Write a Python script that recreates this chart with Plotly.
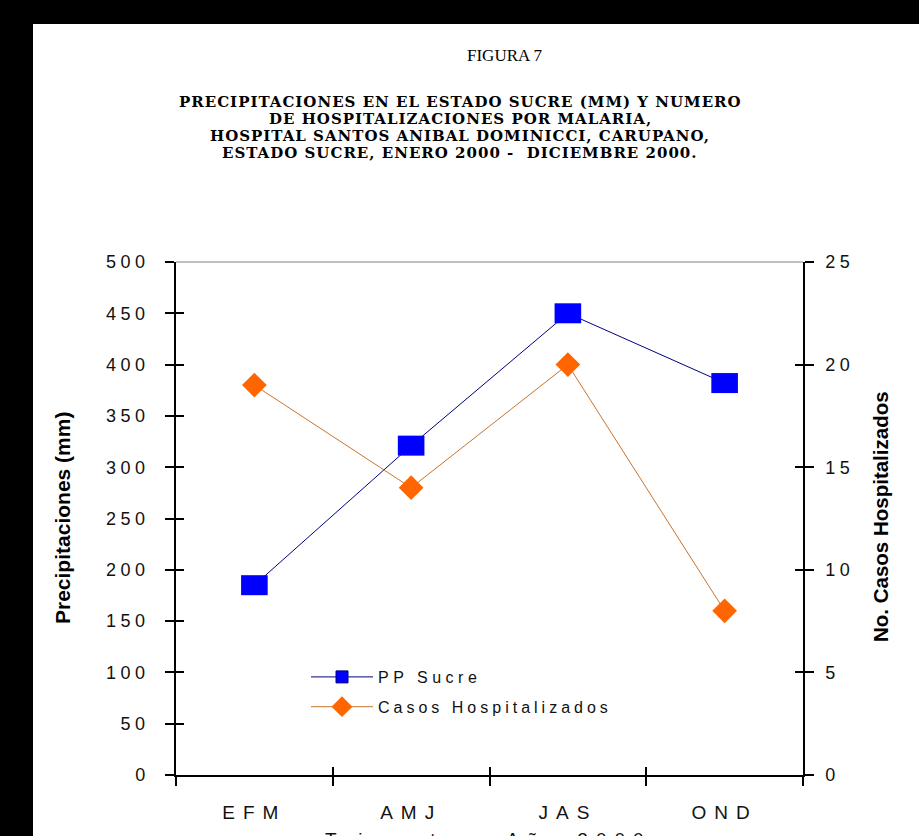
import plotly.graph_objects as go

# Quarterly rainfall (mm) and malaria hospitalisations, Sucre state, 2000
quarters = ["EFM", "AMJ", "JAS", "OND"]
precip_mm = [185, 321, 450, 382]
hosp_cases = [19, 14, 20, 8]
precip_ticks = [0, 50, 100, 150, 200, 250, 300, 350, 400, 450, 500]
cases_ticks = [0, 5, 10, 15, 20, 25]

W, H = 919, 836
# plot area box in page pixels
L, R, T, B = 176, 803, 262, 775


def px(xp):
    return (xp - L) / (R - L)


def py(yp):
    return (B - yp) / (B - T)


SANS = "Liberation Sans, Arial, sans-serif"
SERIF = "Liberation Serif, Times New Roman, serif"
HEAVY_SERIF = "DejaVu Serif, Liberation Serif, serif"


def spaced(s, ls):
    return f'<span style="letter-spacing:{ls}px">{s}</span>'


NAVY = "#000080"
BLUE = "#0000FF"
ORANGE = "#FF6600"
TAN = "#C8742C"

fig = go.Figure()

# rainfall series: wide rectangular markers
fig.add_trace(go.Scatter(
    x=quarters, y=precip_mm, name="PP Sucre", mode="lines+markers",
    line=dict(color=NAVY, width=1),
    marker=dict(symbol="line-ew", size=19, color=BLUE,
                line=dict(color=BLUE, width=20)),
    showlegend=False, xaxis="x", yaxis="y", cliponaxis=False,
))
# legend entry for the rainfall series
fig.add_trace(go.Scatter(
    x=[None], y=[None], name=spaced("PP Sucre", 4.5), mode="lines+markers",
    line=dict(color=NAVY, width=1),
    marker=dict(symbol="square", size=12, color=BLUE,
                line=dict(color=NAVY, width=1)),
    legendrank=1, legendgroup="pp", xaxis="x", yaxis="y",
))
# hospitalisations on the secondary axis
fig.add_trace(go.Scatter(
    x=quarters, y=hosp_cases, name=spaced("Casos Hospitalizados", 4),
    mode="lines+markers",
    line=dict(color=TAN, width=1),
    marker=dict(symbol="diamond", size=19, color=ORANGE,
                line=dict(color=ORANGE, width=0)),
    legendrank=2, legendgroup="casos", xaxis="x", yaxis="y2",
    cliponaxis=False,
))

boundaries = [i - 0.5 for i in range(len(quarters) + 1)]

# empty traces so the inner tick axes (x2, y3, y4) get drawn
for xa, ya in (("x2", "y3"), ("x2", "y4")):
    fig.add_trace(go.Scatter(x=[None], y=[None], xaxis=xa, yaxis=ya,
                             showlegend=False, hoverinfo="skip"))

tick_font = dict(family=SANS, size=18, color="#111111")

fig.update_layout(
    width=W, height=H,
    margin=dict(l=L, r=W - R, t=T, b=H - B, pad=0),
    paper_bgcolor="white", plot_bgcolor="white",
    showlegend=True,
    legend=dict(
        x=px(306), y=py(660), xanchor="left", yanchor="top",
        bgcolor="rgba(0,0,0,0)", borderwidth=0,
        font=dict(family=SANS, size=16, color="#111111"),
        itemwidth=62, traceorder="grouped", tracegroupgap=6,
    ),
    xaxis=dict(
        type="category", categoryorder="array", categoryarray=quarters,
        range=[-0.5, len(quarters) - 0.5],
        tickmode="array", tickvals=quarters,
        ticktext=[spaced(q, 8) for q in quarters],
        tickson="boundaries", ticks="outside", ticklen=9, tickwidth=1.5,
        tickcolor="black", showline=True, linecolor="black", linewidth=1.5,
        showgrid=False, zeroline=False,
        tickfont=dict(family=SANS, size=19, color="#111111"),
        ticklabelstandoff=19,
    ),
    xaxis2=dict(
        overlaying="x", anchor="y", side="bottom",
        range=[-0.5, len(quarters) - 0.5],
        tickmode="array", tickvals=boundaries,
        ticks="inside", ticklen=8, tickwidth=1.5, tickcolor="black",
        showticklabels=False, showline=False, showgrid=False, zeroline=False,
    ),
    yaxis=dict(
        range=[0, 500], tickmode="array", tickvals=precip_ticks,
        ticktext=[spaced(str(v), 4.5) for v in precip_ticks],
        ticks="outside", ticklen=9, tickwidth=1.5, tickcolor="black",
        showline=True, linecolor="black", linewidth=1.5,
        showgrid=False, zeroline=False, tickfont=tick_font,
        ticklabelstandoff=12,
    ),
    yaxis2=dict(
        overlaying="y", side="right", anchor="x",
        range=[0, 25], tickmode="array", tickvals=cases_ticks,
        ticktext=[spaced(str(v), 4.5) for v in cases_ticks],
        ticks="outside", ticklen=9, tickwidth=1.5, tickcolor="black",
        showline=True, linecolor="black", linewidth=1.5,
        showgrid=False, zeroline=False, tickfont=tick_font,
        ticklabelstandoff=8,
    ),
    yaxis3=dict(
        overlaying="y", side="left", anchor="x2",
        range=[0, 500], tickmode="array", tickvals=precip_ticks,
        ticks="inside", ticklen=8, tickwidth=1.5, tickcolor="black",
        showticklabels=False, showline=False, showgrid=False, zeroline=False,
    ),
    yaxis4=dict(
        overlaying="y", side="right", anchor="x2",
        range=[0, 25], tickmode="array", tickvals=cases_ticks,
        ticks="inside", ticklen=8, tickwidth=1.5, tickcolor="black",
        showticklabels=False, showline=False, showgrid=False, zeroline=False,
    ),
)

# thin grey frame line along the top of the plot area
fig.add_shape(type="line", xref="paper", yref="paper",
              x0=0, x1=1, y0=1, y1=1, line=dict(color="#808080", width=1))

# black page border (top and left bands)
fig.add_shape(type="rect", xref="paper", yref="paper", layer="above",
              x0=px(0), x1=px(33), y0=py(H), y1=py(0),
              fillcolor="black", line=dict(width=0))
fig.add_shape(type="rect", xref="paper", yref="paper", layer="above",
              x0=px(0), x1=px(W), y0=py(24), y1=py(0),
              fillcolor="black", line=dict(width=0))

title_lines = [
    "PRECIPITACIONES EN EL ESTADO SUCRE (MM) Y NUMERO",
    "DE HOSPITALIZACIONES POR MALARIA,",
    "HOSPITAL SANTOS ANIBAL DOMINICCI, CARUPANO,",
    "ESTADO SUCRE, ENERO 2000 -  DICIEMBRE 2000.",
]
title_y = [102, 119, 136, 153]

annotations = [
    dict(text="FIGURA 7", x=px(505), y=py(56), xref="paper", yref="paper",
         showarrow=False, xanchor="center", yanchor="middle",
         font=dict(family=SERIF, size=17, color="black")),
]
for line, yp in zip(title_lines, title_y):
    annotations.append(dict(
        text=f"<b>{spaced(line, 1)}</b>", x=px(460), y=py(yp),
        xref="paper", yref="paper",
        showarrow=False, xanchor="center", yanchor="middle",
        font=dict(family=HEAVY_SERIF, size=15, color="black")))

annotations += [
    dict(text="<b>Precipitaciones (mm)</b>", x=px(62), y=py(518),
         xref="paper", yref="paper", showarrow=False, textangle=-90,
         xanchor="center", yanchor="middle",
         font=dict(family=SANS, size=21, color="black")),
    dict(text="<b>No. Casos Hospitalizados</b>", x=px(880), y=py(517),
         xref="paper", yref="paper", showarrow=False, textangle=-90,
         xanchor="center", yanchor="middle",
         font=dict(family=SANS, size=20.5, color="black")),
    dict(text=spaced("Trimestres Año 2000", 8), x=px(488), y=py(827),
         xref="paper", yref="paper", showarrow=False,
         xanchor="center", yanchor="top",
         font=dict(family=SANS, size=19, color="#111111")),
]
fig.update_layout(annotations=annotations)

fig.write_html("out.html")
